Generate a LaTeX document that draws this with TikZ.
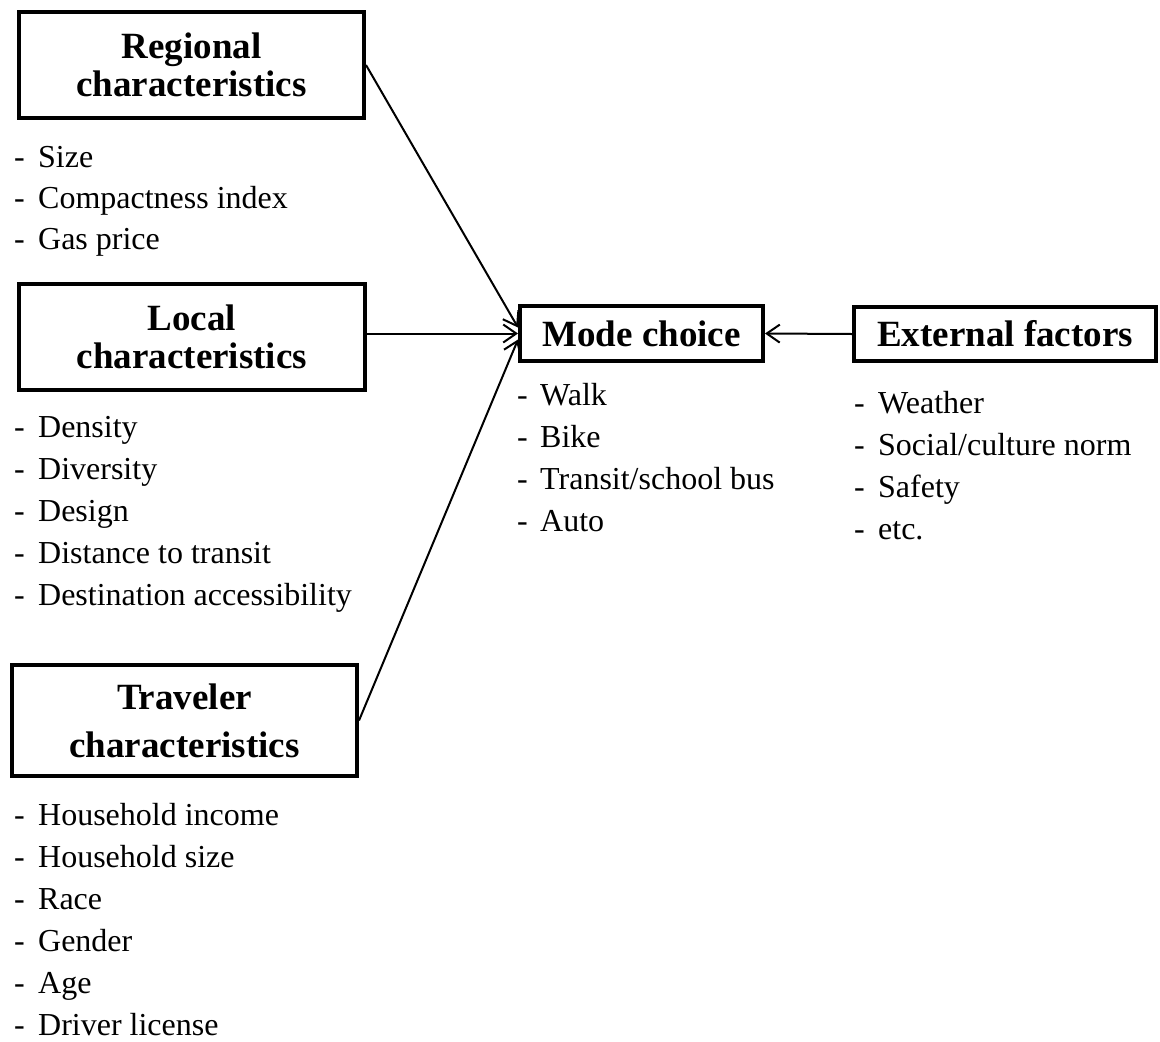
\documentclass[tikz,border=0pt]{standalone}
\usepackage{fontspec}
\setmainfont{Liberation Serif}
\usetikzlibrary{arrows.meta, positioning}

\begin{document}
\begin{tikzpicture}[
  x=1pt, y=-1pt,
  >={Straight Barb[length=13pt, width=18pt]},
  box/.style={draw, line width=4pt, inner sep=0pt, align=center, font=\fontsize{37}{38}\selectfont\bfseries},
  item/.style={anchor=base west, inner sep=0pt, font=\fontsize{32}{38}\selectfont},
  link/.style={line width=2pt, ->},
]

\useasboundingbox (0,0) rectangle (1160,1042);

% Factor boxes
\node[box, minimum width=345pt, minimum height=106pt] (reg) at (191.5,65) {Regional\\characteristics};
\node[box, minimum width=346pt, minimum height=106pt] (loc) at (192,337) {Local\\characteristics};
\node[box, minimum width=345pt, minimum height=111pt] (trav) at (184.5,720.5) {Traveler\\[10pt]characteristics};
\node[box, minimum width=243pt, minimum height=55pt] (mode) at (641.5,333.5) {Mode choice};
\node[box, minimum width=302pt, minimum height=54pt] (ext) at (1005,334) {External factors};

% Lists under the boxes
\foreach \t [count=\i] in {Size, Compactness index, Gas price}
  \node[item] (reg-\i) at (14,167+41*\i-41) {\makebox[24pt][l]{-}\t};
\foreach \t [count=\i] in {Density, Diversity, Design, Distance to transit, Destination accessibility}
  \node[item] (loc-\i) at (14,437+42*\i-42) {\makebox[24pt][l]{-}\t};
\foreach \t [count=\i] in {Household income, Household size, Race, Gender, Age, Driver license}
  \node[item] (trav-\i) at (14,825+42*\i-42) {\makebox[24pt][l]{-}\t};
\foreach \t [count=\i] in {Walk, Bike, Transit/school bus, Auto}
  \node[item] (mode-\i) at (517,405+42*\i-42) {\makebox[23pt][l]{-}\t};
\foreach \t [count=\i] in {Weather, Social/culture norm, Safety, etc.}
  \node[item] (ext-\i) at (854,413+42*\i-42) {\makebox[24pt][l]{-}\t};

% Arrows into mode choice
\draw[link] (reg.east) -- ([yshift=6pt]mode.west);
\draw[link] (loc.east |- mode.west) -- (mode.west);
\draw[link] (trav.east) -- ([yshift=-6pt]mode.west);
\draw[link] (ext.west) -- (mode.east);

\end{tikzpicture}
\end{document}
